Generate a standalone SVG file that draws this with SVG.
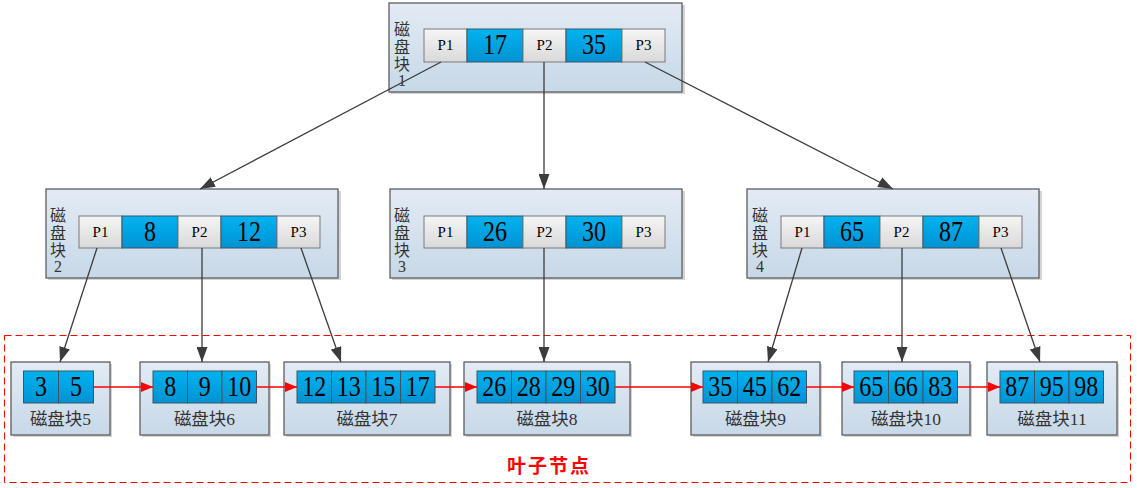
<svg xmlns="http://www.w3.org/2000/svg" width="1137" height="488" viewBox="0 0 1137 488">
<defs>
<linearGradient id="gBlock" x1="0" y1="0" x2="0" y2="1"><stop offset="0" stop-color="#e3ebf4"/><stop offset="1" stop-color="#c7d8e8"/></linearGradient>
<linearGradient id="gBlue" x1="0" y1="0" x2="0" y2="1"><stop offset="0" stop-color="#00b3ef"/><stop offset="1" stop-color="#0092d2"/></linearGradient>
<linearGradient id="gGray" x1="0" y1="0" x2="0" y2="1"><stop offset="0" stop-color="#f5f5f5"/><stop offset="1" stop-color="#d9d9d9"/></linearGradient>
<marker id="arD" markerUnits="userSpaceOnUse" markerWidth="15" markerHeight="11" refX="15" refY="5.5" orient="auto"><path d="M0,0 L15,5.5 L0,11 z" fill="#3c3c3c"/></marker>
<marker id="arR" markerUnits="userSpaceOnUse" markerWidth="12" markerHeight="10" refX="12" refY="5" orient="auto"><path d="M0,0 L12,5 L0,10 z" fill="#ff0000"/></marker>
<style>
.shadow{fill:#d4d4d4;}
.blk{fill:url(#gBlock);stroke:#5e5e5e;stroke-width:1.3;}
.cb{fill:url(#gBlue);stroke:#3d5466;stroke-width:1;}
.cg{fill:url(#gGray);stroke:#7a7a7a;stroke-width:1;}
.num{font-family:"Liberation Serif","Noto Sans CJK SC",serif;font-size:29px;fill:#000;text-anchor:middle;}
.p{font-family:"Liberation Serif","Noto Sans CJK SC",serif;font-size:15px;fill:#000;text-anchor:middle;}
.lbl{font-family:"Liberation Serif","Noto Sans CJK SC",serif;font-size:16px;fill:#333;text-anchor:middle;}
.ll{font-family:"Liberation Serif","Noto Sans CJK SC",serif;font-size:17.5px;fill:#333;text-anchor:middle;}
.dk{stroke:#3c3c3c;stroke-width:1.3;fill:none;marker-end:url(#arD);}
.rd{stroke:#ff0000;stroke-width:1.3;fill:none;marker-end:url(#arR);}
</style>
</defs>

<rect x="4.5" y="335.5" width="1126" height="147" fill="none" stroke="#ff0000" stroke-width="1" stroke-dasharray="7 4"/>
<text x="549" y="473" font-family="'Noto Sans CJK SC',sans-serif" font-size="19" font-weight="bold" letter-spacing="2" fill="#ff0000" text-anchor="middle">叶子节点</text>

<g id="block1">
<rect class="shadow" x="391" y="5" width="294" height="89"/>
<rect class="blk" x="389" y="3" width="293" height="89"/>
<text class="lbl" x="402" y="35">磁</text><text class="lbl" x="402" y="53">盘</text><text class="lbl" x="402" y="70">块</text><text class="lbl" x="402" y="86">1</text>
<rect class="cg" x="424" y="29" width="43" height="33"/><rect class="cb" x="467" y="29" width="56" height="33"/><rect class="cg" x="523" y="29" width="43" height="33"/><rect class="cb" x="566" y="29" width="56" height="33"/><rect class="cg" x="622" y="29" width="43" height="33"/>
<text class="p" x="445.5" y="50">P1</text><text class="num" x="495" y="54" textLength="24" lengthAdjust="spacingAndGlyphs">17</text><text class="p" x="544.5" y="50">P2</text><text class="num" x="594" y="54" textLength="24" lengthAdjust="spacingAndGlyphs">35</text><text class="p" x="643.5" y="50">P3</text>
</g>

<g id="block2">
<rect class="shadow" x="48" y="191" width="293" height="89"/>
<rect class="blk" x="46" y="189" width="292" height="89"/>
<text class="lbl" x="58" y="221">磁</text><text class="lbl" x="58" y="239">盘</text><text class="lbl" x="58" y="256">块</text><text class="lbl" x="58" y="272">2</text>
<rect class="cg" x="79" y="216" width="43" height="32"/><rect class="cb" x="122" y="216" width="56" height="32"/><rect class="cg" x="178" y="216" width="43" height="32"/><rect class="cb" x="221" y="216" width="56" height="32"/><rect class="cg" x="277" y="216" width="43" height="32"/>
<text class="p" x="100.5" y="237">P1</text><text class="num" x="150" y="241" textLength="12" lengthAdjust="spacingAndGlyphs">8</text><text class="p" x="199.5" y="237">P2</text><text class="num" x="249" y="241" textLength="24" lengthAdjust="spacingAndGlyphs">12</text><text class="p" x="298.5" y="237">P3</text>
</g>

<g id="block3">
<rect class="shadow" x="392" y="191" width="293" height="89"/>
<rect class="blk" x="390" y="189" width="292" height="89"/>
<text class="lbl" x="402" y="221">磁</text><text class="lbl" x="402" y="239">盘</text><text class="lbl" x="402" y="256">块</text><text class="lbl" x="402" y="272">3</text>
<rect class="cg" x="424" y="216" width="43" height="32"/><rect class="cb" x="467" y="216" width="56" height="32"/><rect class="cg" x="523" y="216" width="43" height="32"/><rect class="cb" x="566" y="216" width="56" height="32"/><rect class="cg" x="622" y="216" width="43" height="32"/>
<text class="p" x="445.5" y="237">P1</text><text class="num" x="495" y="241" textLength="24" lengthAdjust="spacingAndGlyphs">26</text><text class="p" x="544.5" y="237">P2</text><text class="num" x="594" y="241" textLength="24" lengthAdjust="spacingAndGlyphs">30</text><text class="p" x="643.5" y="237">P3</text>
</g>

<g id="block4">
<rect class="shadow" x="749" y="191" width="293" height="89"/>
<rect class="blk" x="747" y="189" width="292" height="89"/>
<text class="lbl" x="760" y="221">磁</text><text class="lbl" x="760" y="239">盘</text><text class="lbl" x="760" y="256">块</text><text class="lbl" x="760" y="272">4</text>
<rect class="cg" x="781" y="216" width="43" height="32"/><rect class="cb" x="824" y="216" width="56" height="32"/><rect class="cg" x="880" y="216" width="43" height="32"/><rect class="cb" x="923" y="216" width="56" height="32"/><rect class="cg" x="979" y="216" width="43" height="32"/>
<text class="p" x="802.5" y="237">P1</text><text class="num" x="852" y="241" textLength="24" lengthAdjust="spacingAndGlyphs">65</text><text class="p" x="901.5" y="237">P2</text><text class="num" x="951" y="241" textLength="24" lengthAdjust="spacingAndGlyphs">87</text><text class="p" x="1000.5" y="237">P3</text>
</g>

<g id="block5">
<rect class="shadow" x="13" y="364" width="99" height="73"/>
<rect class="blk" x="11" y="362" width="99" height="73"/>
<rect class="cb" x="23.5" y="371" width="35" height="32"/><rect class="cb" x="58.5" y="371" width="35" height="32"/>
<text class="num" x="41" y="396" textLength="12" lengthAdjust="spacingAndGlyphs">3</text><text class="num" x="76" y="396" textLength="12" lengthAdjust="spacingAndGlyphs">5</text>
<text class="ll" x="60.5" y="425">磁盘块5</text>
</g>

<g id="block6">
<rect class="shadow" x="142" y="364" width="129" height="73"/>
<rect class="blk" x="140" y="362" width="129" height="73"/>
<rect class="cb" x="153" y="371" width="34.5" height="32"/><rect class="cb" x="187.5" y="371" width="34.5" height="32"/><rect class="cb" x="222" y="371" width="34.5" height="32"/>
<text class="num" x="170.25" y="396" textLength="12" lengthAdjust="spacingAndGlyphs">8</text><text class="num" x="204.75" y="396" textLength="12" lengthAdjust="spacingAndGlyphs">9</text><text class="num" x="239.25" y="396" textLength="24" lengthAdjust="spacingAndGlyphs">10</text>
<text class="ll" x="204.5" y="425">磁盘块6</text>
</g>

<g id="block7">
<rect class="shadow" x="286" y="364" width="166" height="73"/>
<rect class="blk" x="284" y="362" width="166" height="73"/>
<rect class="cb" x="297" y="371" width="34.5" height="32"/><rect class="cb" x="331.5" y="371" width="34.5" height="32"/><rect class="cb" x="366" y="371" width="34.5" height="32"/><rect class="cb" x="400.5" y="371" width="34.5" height="32"/>
<text class="num" x="314.25" y="396" textLength="24" lengthAdjust="spacingAndGlyphs">12</text><text class="num" x="348.75" y="396" textLength="24" lengthAdjust="spacingAndGlyphs">13</text><text class="num" x="383.25" y="396" textLength="24" lengthAdjust="spacingAndGlyphs">15</text><text class="num" x="417.75" y="396" textLength="24" lengthAdjust="spacingAndGlyphs">17</text>
<text class="ll" x="367" y="425">磁盘块7</text>
</g>

<g id="block8">
<rect class="shadow" x="466" y="364" width="166" height="73"/>
<rect class="blk" x="464" y="362" width="166" height="73"/>
<rect class="cb" x="477" y="371" width="34.5" height="32"/><rect class="cb" x="511.5" y="371" width="34.5" height="32"/><rect class="cb" x="546" y="371" width="34.5" height="32"/><rect class="cb" x="580.5" y="371" width="34.5" height="32"/>
<text class="num" x="494.25" y="396" textLength="24" lengthAdjust="spacingAndGlyphs">26</text><text class="num" x="528.75" y="396" textLength="24" lengthAdjust="spacingAndGlyphs">28</text><text class="num" x="563.25" y="396" textLength="24" lengthAdjust="spacingAndGlyphs">29</text><text class="num" x="597.75" y="396" textLength="24" lengthAdjust="spacingAndGlyphs">30</text>
<text class="ll" x="547" y="425">磁盘块8</text>
</g>

<g id="block9">
<rect class="shadow" x="693" y="364" width="129" height="73"/>
<rect class="blk" x="691" y="362" width="129" height="73"/>
<rect class="cb" x="703" y="371" width="34.5" height="32"/><rect class="cb" x="737.5" y="371" width="34.5" height="32"/><rect class="cb" x="772" y="371" width="34.5" height="32"/>
<text class="num" x="720.25" y="396" textLength="24" lengthAdjust="spacingAndGlyphs">35</text><text class="num" x="754.75" y="396" textLength="24" lengthAdjust="spacingAndGlyphs">45</text><text class="num" x="789.25" y="396" textLength="24" lengthAdjust="spacingAndGlyphs">62</text>
<text class="ll" x="755.5" y="425">磁盘块9</text>
</g>

<g id="block10">
<rect class="shadow" x="844" y="364" width="128" height="73"/>
<rect class="blk" x="842" y="362" width="128" height="73"/>
<rect class="cb" x="854" y="371" width="34.5" height="32"/><rect class="cb" x="888.5" y="371" width="34.5" height="32"/><rect class="cb" x="923" y="371" width="34.5" height="32"/>
<text class="num" x="871.25" y="396" textLength="24" lengthAdjust="spacingAndGlyphs">65</text><text class="num" x="905.75" y="396" textLength="24" lengthAdjust="spacingAndGlyphs">66</text><text class="num" x="940.25" y="396" textLength="24" lengthAdjust="spacingAndGlyphs">83</text>
<text class="ll" x="906" y="425">磁盘块10</text>
</g>

<g id="block11">
<rect class="shadow" x="989" y="364" width="130" height="73"/>
<rect class="blk" x="987" y="362" width="130" height="73"/>
<rect class="cb" x="1000" y="371" width="34.5" height="32"/><rect class="cb" x="1034.5" y="371" width="34.5" height="32"/><rect class="cb" x="1069" y="371" width="34.5" height="32"/>
<text class="num" x="1017.25" y="396" textLength="24" lengthAdjust="spacingAndGlyphs">87</text><text class="num" x="1051.75" y="396" textLength="24" lengthAdjust="spacingAndGlyphs">95</text><text class="num" x="1086.25" y="396" textLength="24" lengthAdjust="spacingAndGlyphs">98</text>
<text class="ll" x="1052" y="425">磁盘块11</text>
</g>

<g id="connectors">
<line class="dk" x1="441" y1="62" x2="200" y2="189"/>
<line class="dk" x1="544" y1="62" x2="544" y2="189"/>
<line class="dk" x1="645" y1="62" x2="893" y2="189"/>
<line class="dk" x1="97" y1="248" x2="60" y2="362"/>
<line class="dk" x1="202" y1="248" x2="202" y2="362"/>
<line class="dk" x1="301" y1="248" x2="341" y2="362"/>
<line class="dk" x1="544" y1="248" x2="544" y2="362"/>
<line class="dk" x1="802" y1="248" x2="768" y2="362"/>
<line class="dk" x1="902" y1="248" x2="902" y2="362"/>
<line class="dk" x1="1001" y1="248" x2="1040" y2="362"/>
<line class="rd" x1="93.5" y1="387" x2="153" y2="387"/>
<line class="rd" x1="256.5" y1="387" x2="297" y2="387"/>
<line class="rd" x1="435" y1="387" x2="477" y2="387"/>
<line class="rd" x1="615" y1="387" x2="703" y2="387"/>
<line class="rd" x1="806.5" y1="387" x2="854" y2="387"/>
<line class="rd" x1="957.5" y1="387" x2="1000" y2="387"/>
</g>
</svg>
